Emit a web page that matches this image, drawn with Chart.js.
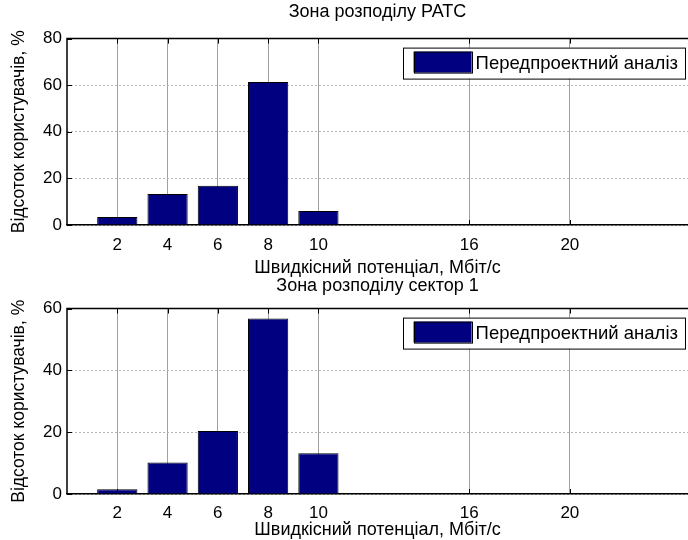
<!DOCTYPE html>
<html lang="uk">
<head>
<meta charset="UTF-8">
<title>Зона розподілу</title>
<script src="https://cdn.jsdelivr.net/npm/chart.js"></script>
<style>
  body { margin: 0; background: #fff; overflow: hidden; }
  .plot { position: relative; width: 688px; }
</style>
</head>
<body>
<div class="plot" style="height:282px"><canvas id="chartRats"></canvas></div>
<div class="plot" style="height:270px; margin-top:-12px"><canvas id="chartSector"></canvas></div>

<script>
// Дані
const speedLabels = ['2', '4', '6', '8', '10', '16', '20'];
const barSlots = [1, 2, 3, 4, 5, 8, 10];   // позиції стовпців на осі (як у MATLAB bar)
const ratsValues = [3.4, 13.3, 16.8, 61.4, 6.0, 0, 0];
const sectorValues = [1.5, 10.2, 20.4, 56.8, 13.2, 0, 0];
const ratsMax = 80;
const sectorMax = 60;
const yStep = 20;
const xMaxSlot = 12.35;

const legendLabel = 'Передпроектний аналіз';
const xTitle = 'Швидкісний потенціал, Мбіт/с';
const yTitle = 'Відсоток користувачів, %';

const fontFamily = "'Liberation Sans', Arial, sans-serif";
Chart.defaults.font.family = fontFamily;
Chart.defaults.color = '#000';

// рамка, внутрішні риски і легенда з білим фоном як у MATLAB
const matlabFrame = {
    id: 'matlabFrame',
    beforeDatasetsDraw(chart) {
        const { ctx, chartArea: a, scales: { x, y } } = chart;
        ctx.save();
        ctx.strokeStyle = '#000';
        ctx.lineWidth = 1;
        ctx.beginPath();
        x.ticks.forEach(t => {
            const px = Math.round(x.getPixelForValue(t.value)) + 0.5;
            ctx.moveTo(px, a.top); ctx.lineTo(px, a.top + 5);
            ctx.moveTo(px, a.bottom); ctx.lineTo(px, a.bottom - 5);
        });
        y.ticks.forEach(t => {
            const py = Math.round(y.getPixelForValue(t.value)) + 0.5;
            ctx.moveTo(a.left, py); ctx.lineTo(a.left + 5, py);
        });
        ctx.stroke();
        ctx.restore();
    },
    afterDraw(chart) {
        const { ctx, chartArea: a } = chart;
        const ds = chart.data.datasets[0];
        ctx.save();
        ctx.strokeStyle = '#000';
        ctx.lineWidth = 1.5;
        ctx.beginPath();
        ctx.moveTo(a.right, a.top);
        ctx.lineTo(a.left, a.top);
        ctx.lineTo(a.left, a.bottom);
        ctx.stroke();

        // легенда
        ctx.font = '18.5px ' + fontFamily;
        const tw = ctx.measureText(ds.label).width;
        const right = a.right - 3;
        const top = a.top + 9;
        const textX = right - 7 - tw;
        const swR = textX - 4;
        const swL = swR - 58;
        const left = swL - 11;
        ctx.fillStyle = '#fff';
        ctx.fillRect(left, top, right - left, 31);
        ctx.lineWidth = 1;
        ctx.strokeRect(Math.round(left) + 0.5, top + 0.5, Math.round(right - left), 31);
        ctx.fillStyle = ds.backgroundColor;
        ctx.fillRect(swL, top + 4, 58, 21);
        ctx.strokeRect(Math.round(swL) + 0.5, top + 4.5, 58, 21);
        ctx.fillStyle = '#000';
        ctx.textBaseline = 'middle';
        ctx.textAlign = 'left';
        ctx.fillText(ds.label, textX, top + 16);
        ctx.restore();
    }
};

function makeChart(id, title, values, yMax, titlePadding, xHeight, tickPad, xTitlePadding) {
    return new Chart(document.getElementById(id), {
        type: 'bar',
        data: {
            datasets: [{
                label: legendLabel,
                data: barSlots.map((s, i) => ({ x: s, y: values[i] })),
                backgroundColor: '#000080',
                borderColor: '#000',
                borderWidth: 1,
                barPercentage: 0.8,
                categoryPercentage: 1.0
            }]
        },
        options: {
            responsive: true,
            maintainAspectRatio: false,
            animation: false,
            events: [],
            layout: { padding: 0 },
            plugins: {
                title: {
                    display: true,
                    text: title,
                    fullSize: false,
                    font: { size: 18, weight: 'normal' },
                    color: '#000',
                    padding: titlePadding
                },
                legend: { display: false },
                tooltip: { enabled: false }
            },
            scales: {
                x: {
                    type: 'linear',
                    min: 0,
                    max: xMaxSlot,
                    offset: false,
                    afterBuildTicks(scale) {
                        scale.ticks = barSlots.map(v => ({ value: v }));
                    },
                    afterFit(scale) { scale.height = xHeight; },
                    ticks: {
                        autoSkip: false,
                        maxRotation: 0,
                        padding: tickPad,
                        font: { size: 17 },
                        callback: v => speedLabels[barSlots.indexOf(v)]
                    },
                    grid: { offset: false, color: '#a0a0a0', lineWidth: 1, drawTicks: false },
                    border: { color: '#000', width: 1.5 },
                    title: {
                        display: true,
                        text: xTitle,
                        font: { size: 18 },
                        padding: xTitlePadding
                    }
                },
                y: {
                    min: 0,
                    max: yMax,
                    afterFit(scale) { scale.width = 67; },
                    ticks: { stepSize: yStep, padding: 5, font: { size: 17 } },
                    grid: { color: '#b4b4b4', lineWidth: 1, drawTicks: false },
                    border: { display: false, dash: [2, 2] },
                    title: {
                        display: true,
                        text: yTitle,
                        font: { size: 17.5 },
                        padding: { top: 9, bottom: 0 }
                    }
                }
            }
        },
        plugins: [matlabFrame]
    });
}

makeChart('chartRats', 'Зона розподілу РАТС', ratsValues, ratsMax,
    { top: 1, bottom: 16 }, 57, 10, { top: 0, bottom: 3 });
makeChart('chartSector', 'Зона розподілу сектор 1', sectorValues, sectorMax,
    { top: 5, bottom: 12 }, 46, 9, { top: 0, bottom: -1 });
</script>
</body>
</html>
